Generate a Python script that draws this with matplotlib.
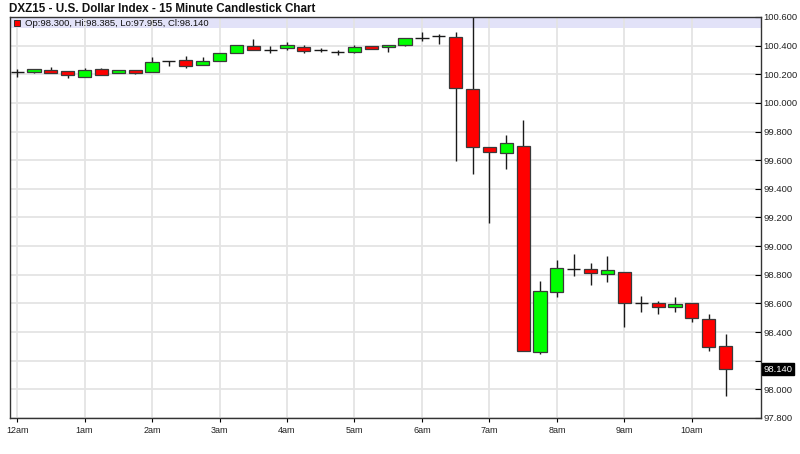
#!/usr/bin/env python

import numpy as np
from matplotlib import pyplot as plt
from matplotlib.patches import Rectangle
from matplotlib import transforms

plt.rcParams["font.family"] = ["Liberation Sans", "DejaVu Sans"]

# 15 minute bars from 12am to 10:30am
opens = [100.213, 100.217, 100.227, 100.220, 100.182, 100.234, 100.210, 100.227,
         100.217, 100.292, 100.299, 100.262, 100.292, 100.350, 100.395, 100.369,
         100.381, 100.388, 100.369, 100.355, 100.353, 100.399, 100.388, 100.406,
         100.451, 100.465, 100.462, 100.094, 99.695, 99.653, 99.702, 98.262,
         98.680, 98.841, 98.841, 98.806, 98.817, 98.605, 98.600, 98.577,
         98.600, 98.493, 98.300]
highs = [100.236, 100.234, 100.248, 100.220, 100.243, 100.243, 100.227, 100.227,
         100.320, 100.292, 100.325, 100.318, 100.350, 100.404, 100.446, 100.395,
         100.427, 100.406, 100.381, 100.369, 100.406, 100.399, 100.404, 100.451,
         100.497, 100.481, 100.493, 100.620, 99.695, 99.774, 99.879, 98.757,
         98.906, 98.943, 98.880, 98.934, 98.817, 98.649, 98.617, 98.645,
         98.600, 98.528, 98.385]
lows = [100.178, 100.206, 100.206, 100.173, 100.182, 100.196, 100.210, 100.199,
        100.217, 100.255, 100.243, 100.262, 100.292, 100.350, 100.367, 100.348,
        100.367, 100.350, 100.353, 100.334, 100.348, 100.374, 100.357, 100.399,
        100.434, 100.409, 99.594, 99.506, 99.163, 99.536, 98.269, 98.248,
        98.645, 98.792, 98.729, 98.747, 98.435, 98.542, 98.523, 98.537,
        98.467, 98.267, 97.955]
closes = [100.213, 100.234, 100.206, 100.196, 100.227, 100.196, 100.227, 100.206,
          100.283, 100.292, 100.257, 100.294, 100.350, 100.404, 100.367, 100.369,
          100.404, 100.360, 100.369, 100.355, 100.388, 100.374, 100.404, 100.451,
          100.451, 100.465, 100.101, 99.695, 99.660, 99.720, 98.269, 98.684,
          98.848, 98.841, 98.810, 98.834, 98.600, 98.605, 98.572, 98.593,
          98.498, 98.299, 98.140]
hour_labels = ["12am", "1am", "2am", "3am", "4am", "5am", "6am", "7am", "8am", "9am", "10am"]
price_ticks = [97.8, 98.0, 98.2, 98.4, 98.6, 98.8, 99.0, 99.2, 99.4, 99.6, 99.8,
               100.0, 100.2, 100.4, 100.6]

o = np.array(opens)
h = np.array(highs)
l = np.array(lows)
c = np.array(closes)
x = np.arange(len(o))

fig = plt.figure(figsize=(8, 4.54), dpi=100)
ax = fig.add_axes([9.5 / 800, 1 - 418 / 454, (761 - 9.5) / 800, (418 - 17) / 454])

ax.set_xlim(-0.45, 44.1)
ax.set_ylim(97.8, 100.6)

# grid
ax.set_axisbelow(True)
ax.grid(True, color="#e4e4e4", linewidth=1.3)

# header band
ax.add_patch(Rectangle((0, 1 - 11 / 401), 1, 11 / 401, transform=ax.transAxes,
                       facecolor="#e2e2f8", edgecolor="none", zorder=0.5))

# wicks
ax.vlines(x, l, h, color="#1a1a1a", linewidth=1.0, zorder=2)

w = 0.78
up = c > o
down = c < o
flat = c == o
ax.bar(x[up], (c - o)[up], bottom=o[up], width=w, color="#00ff00",
       edgecolor="#3a3a3a", linewidth=0.9, zorder=3)
ax.bar(x[down], (c - o)[down], bottom=o[down], width=w, color="#ff0000",
       edgecolor="#3a3a3a", linewidth=0.9, zorder=3)
ax.hlines(o[flat], x[flat] - w / 2, x[flat] + w / 2, color="#1a1a1a",
          linewidth=1.0, zorder=3)

# axes
ax.yaxis.tick_right()
ax.set_yticks(price_ticks)
# the last price box hides the label nearest to it
ax.set_yticklabels(["" if abs(p - c[-1]) < 0.1 else "%.3f" % p for p in price_ticks])
ax.set_xticks(np.arange(0, 4 * len(hour_labels), 4))
ax.set_xticklabels(hour_labels)
ax.tick_params(axis="y", direction="in", length=4, width=0.8, pad=2, labelsize=6.8,
               labelcolor="#222222")
ax.tick_params(axis="x", length=3, width=0.8, pad=2.5, labelsize=6.5, labelcolor="#222222")
for s in ax.spines.values():
    s.set_color("#333333")
    s.set_linewidth(1.0)

# last price marker
trans = transforms.blended_transform_factory(ax.transAxes, ax.transData)
ax.text(1.003, c[-1], "%.3f" % c[-1], transform=trans, ha="left", va="center",
        fontsize=6.8, color="white",
        bbox=dict(boxstyle="square,pad=0.15", facecolor="black", edgecolor="black"))

# title and legend
fig.text(9 / 800, 1 - 9 / 454, "DXZ15 - U.S. Dollar Index - 15 Minute Candlestick Chart",
         ha="left", va="center", fontsize=8.4, fontweight="bold", color="#111111")
ax.plot([0.0095], [1 - 6 / 401], transform=ax.transAxes, marker="s", markersize=4.5,
        markerfacecolor="#ff0000", markeredgecolor="#333333", markeredgewidth=0.7,
        linestyle="none", zorder=5)
ax.text(0.02, 1 - 6 / 401,
        "Op:%.3f, Hi:%.3f, Lo:%.3f, Cl:%.3f" % (o[-1], h[-1], l[-1], c[-1]),
        transform=ax.transAxes, ha="left", va="center", fontsize=6.8, color="#111111", zorder=5)

fig.savefig("out.png")
